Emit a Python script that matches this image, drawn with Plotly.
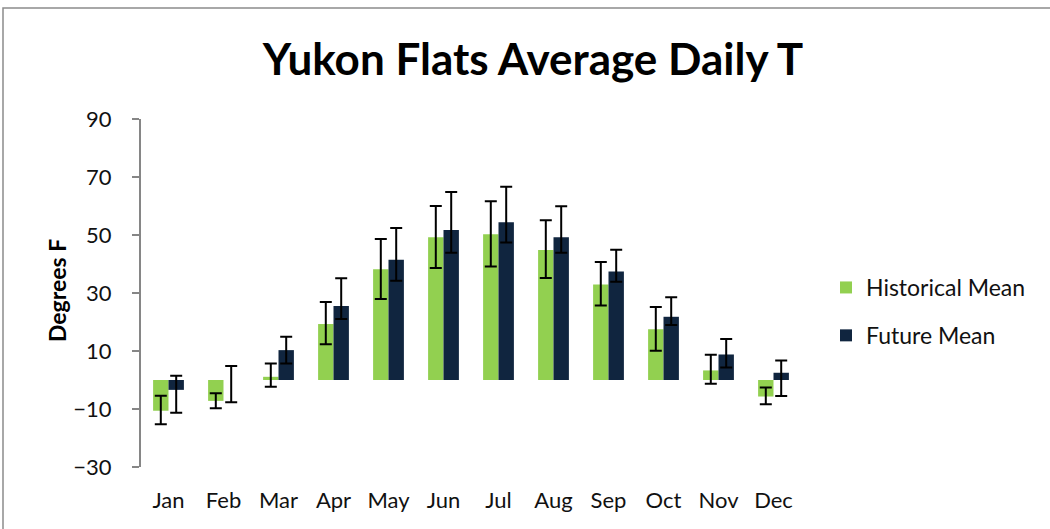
import plotly.graph_objects as go

# Monthly mean daily temperature (deg F), historical vs projected
months = ["Jan", "Feb", "Mar", "Apr", "May", "Jun",
          "Jul", "Aug", "Sep", "Oct", "Nov", "Dec"]

hist_mean = [-10.6, -7.2, 1.1, 19.3, 38.2, 49.2, 50.3, 44.8, 32.9, 17.5, 3.3, -5.7]
hist_err_plus = [5.2, 2.6, 4.6, 7.6, 10.4, 10.8, 11.3, 10.3, 7.8, 7.7, 5.4, 3.1]
hist_err_minus = [4.7, 2.5, 3.4, 7.0, 10.3, 10.6, 11.2, 9.6, 7.2, 7.4, 4.6, 2.7]

future_mean = [-3.4, 0.0, 10.3, 25.5, 41.5, 51.7, 54.4, 49.2, 37.4, 21.8, 8.8, 2.5]
future_err_plus = [4.9, 4.8, 4.6, 9.6, 10.9, 13.1, 12.2, 10.7, 7.5, 6.7, 5.3, 4.2]
future_err_minus = [7.9, 7.7, 4.6, 4.5, 7.3, 7.8, 7.0, 5.3, 3.5, 2.8, 4.5, 8.0]

y_ticks = [-30, -10, 10, 30, 50, 70, 90]

FONT = "Lato"
AXIS_GREY = "#868686"
GREEN = "#92D050"
NAVY = "#10253F"

W, H = 1050, 529
L, R, T, B = 141, 249, 119, 62
PW, PH = W - L - R, H - T - B


def px_x(px):
    return (px - L) / PW


def px_y(py):
    return (H - B - py) / PH


fig = go.Figure()

fig.add_trace(go.Bar(
    name="Historical Mean", x=months, y=hist_mean,
    marker=dict(color=GREEN, line=dict(width=0)),
    legendgroup="h",
    error_y=dict(type="data", symmetric=False, array=hist_err_plus,
                 arrayminus=hist_err_minus, color="black", thickness=2, width=6),
))
fig.add_trace(go.Bar(
    name="Future Mean", x=months, y=future_mean,
    marker=dict(color=NAVY, line=dict(width=0)),
    legendgroup="f",
    error_y=dict(type="data", symmetric=False, array=future_err_plus,
                 arrayminus=future_err_minus, color="black", thickness=2, width=6),
))

fig.update_layout(
    width=W, height=H,
    margin=dict(l=L, r=R, t=T, b=B, autoexpand=False),
    paper_bgcolor="white", plot_bgcolor="white",
    font=dict(family=FONT, color="#111111"),
    barmode="group", bargap=0.44, bargroupgap=0,
    showlegend=True,
    title=dict(text="<b>Yukon Flats Average Daily T</b>",
               font=dict(family=FONT, size=44, color="black"),
               x=px_x(533), xref="paper", xanchor="center",
               y=1 - 60 / H, yref="container", yanchor="middle"),
    legend=dict(x=px_x(826), y=px_y(266), xanchor="left", yanchor="top",
                font=dict(family=FONT, size=23, color="#111111"),
                traceorder="grouped", tracegroupgap=15,
                bgcolor="rgba(0,0,0,0)"),
    xaxis=dict(type="category", showline=False, ticks="", showgrid=False,
               zeroline=False, tickfont=dict(family=FONT, size=22, color="#111111"),
               ticklabelstandoff=18),
    xaxis2=dict(overlaying="x", anchor="free", position=px_y(380),
                type="linear", range=[-0.5, 11.5], tick0=-0.5, dtick=1,
                ticks="outside", ticklen=6, tickwidth=2, tickcolor=AXIS_GREY,
                showline=True, linecolor=AXIS_GREY, linewidth=2,
                showticklabels=False, showgrid=False, zeroline=False),
    yaxis=dict(range=[-30, 90], tickvals=y_ticks, showgrid=False, zeroline=False,
               showline=True, linecolor=AXIS_GREY, linewidth=2,
               ticks="outside", ticklen=7, tickwidth=2, tickcolor=AXIS_GREY,
               tickfont=dict(family=FONT, size=22, color="#111111"),
               ticklabelstandoff=16),
    annotations=[dict(text="<b>Degrees F</b>", textangle=-90,
                      xref="paper", yref="paper", x=px_x(57), y=px_y(291),
                      xanchor="center", yanchor="middle", showarrow=False,
                      font=dict(family=FONT, size=23, color="black"))],
    shapes=[dict(type="rect", xref="paper", yref="paper",
                 x0=px_x(3), x1=px_x(1062), y0=px_y(545), y1=px_y(8),
                 line=dict(color="#8c8c8c", width=1.5), layer="below")],
)

fig.write_html("out.html")
